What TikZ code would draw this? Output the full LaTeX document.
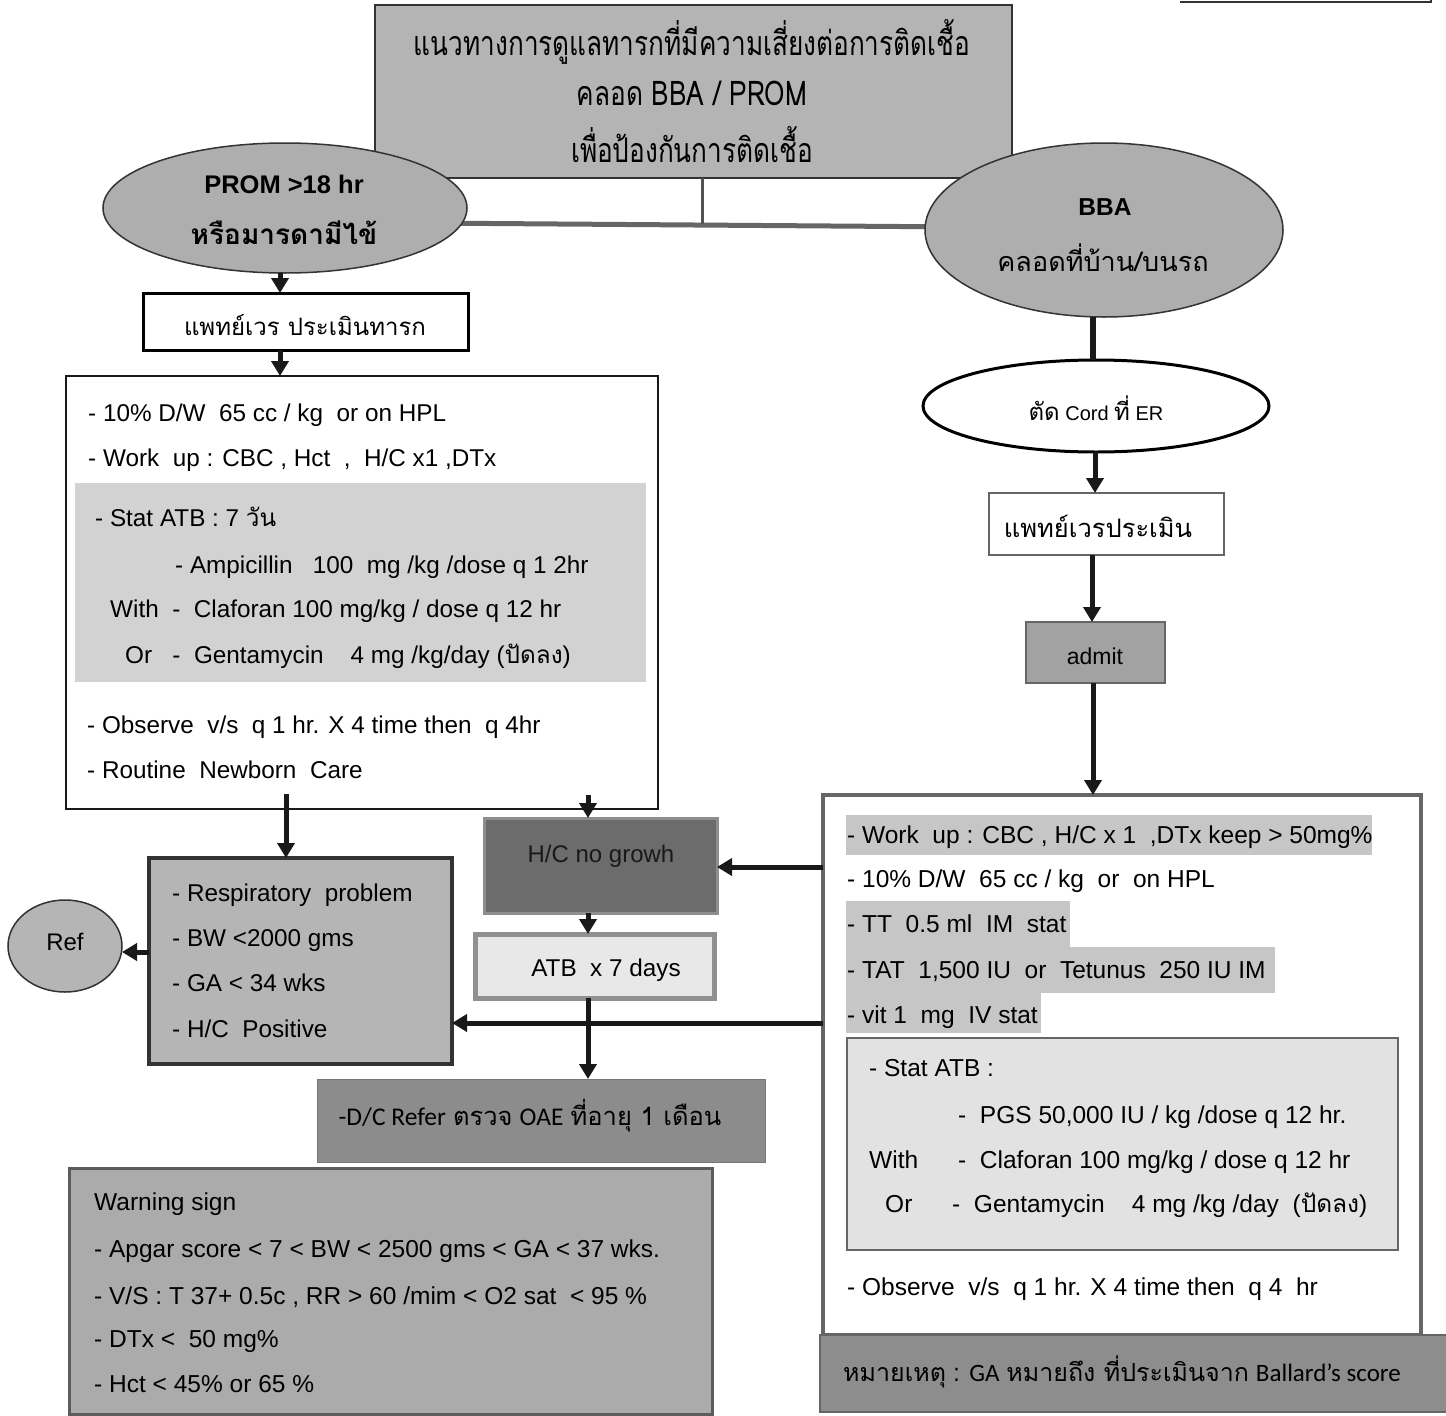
\documentclass[tikz,border=0pt]{standalone}
\usepackage{fontspec}
\setmainfont{Liberation Sans}
\newfontfamily\thf[Script=Thai]{Loma}
\newfontfamily\thtitle[Script=Thai,FakeStretch=0.77]{Loma}
\newfontfamily\calf{Carlito}
\usetikzlibrary{arrows.meta,shapes.geometric,backgrounds}
\definecolor{cTitle}{HTML}{B4B4B4}
\definecolor{cEll}{HTML}{AEAEAE}
\definecolor{cBand}{HTML}{D2D2D2}
\definecolor{cResp}{HTML}{B5B5B5}
\definecolor{cHC}{HTML}{6C6C6C}
\definecolor{cHCb}{HTML}{8E8E8E}
\definecolor{cATB}{HTML}{E8E8E8}
\definecolor{cATBb}{HTML}{909090}
\definecolor{cDC}{HTML}{8C8C8C}
\definecolor{cWarn}{HTML}{ABABAB}
\definecolor{cAdmit}{HTML}{A2A2A2}
\definecolor{cRB}{HTML}{C6C6C6}
\definecolor{cStat}{HTML}{E2E2E2}
\definecolor{cNote}{HTML}{8D8D8D}
\definecolor{cDark}{HTML}{333333}
\definecolor{cMid}{HTML}{666666}
\begin{document}
\begin{tikzpicture}[x=1pt,y=-1pt,
  shp/.style={inner sep=0pt, outer sep=0pt},
  rbox/.style={shp, rectangle},
  ell/.style={shp, ellipse},
  band/.style={shp, rectangle, fill=#1, draw=none},
  tw/.style={inner sep=0pt, anchor=base west, font=\fontsize{24.3}{28}\selectfont},
  tn/.style={inner sep=0pt, anchor=base west, font=\fontsize{24.5}{28}\selectfont},
  arr/.style={line width=5pt, draw=black!90, -{Triangle[width=17pt,length=15pt]}},
]
\useasboundingbox (0,0) rectangle (1446,1416);
% fragment of a box at top right
\coordinate (fa) at (1180,2);
\coordinate (fb) at (1431,2);
\coordinate (fc) at (1431,-2);
\draw[line width=2.5pt, cDark] (fa) -- (fb) -- (fc);

% ---------- title ----------
\node[rbox, fill=cTitle, draw=cDark, line width=2pt, minimum width=637pt, minimum height=173pt] (title) at (693.5,91.5) {};
\node[shp, font=\thtitle\fontsize{34}{36}\selectfont] (ti1) at (692,42) {แนวทางการดูแลทารกที่มีความเสี่ยงต่อการติดเชื้อ};
\node[shp, font=\thtitle\fontsize{34}{36}\selectfont] (ti2) at (692,93) {คลอด BBA / PROM};
\node[shp, font=\thtitle\fontsize{34}{36}\selectfont] (ti3) at (692,145) {เพื่อป้องกันการติดเชื้อ};

% ---------- ellipses ----------
\node[ell, fill=cEll, draw=cDark, line width=1.5pt, minimum width=364pt, minimum height=130pt] (lell) at (285,208) {};
\node[shp, font=\bfseries\fontsize{25.5}{28}\selectfont] (le1) at (284,184) {PROM >18 hr};
\node[shp, font=\thf\bfseries\fontsize{28}{30}\selectfont] (le2) at (284,233) {หรือมารดามีไข้};

\node[ell, fill=cEll, draw=cDark, line width=1.5pt, minimum width=358pt, minimum height=174pt] (rell) at (1104,230) {};
\node[shp, font=\bfseries\fontsize{24.5}{26}\selectfont] (re1) at (1105,207) {BBA};
\node[shp, font=\thf\fontsize{27}{29}\selectfont] (re2) at (1103,258) {คลอดที่บ้าน/บนรถ};

% junction lines
\coordinate (j) at (702,224);
\coordinate (hl) at (460,222);
\coordinate (hr) at (928,228);
\begin{pgfonlayer}{background}
\fill[white] (0,0) rectangle (1446,1416);
\draw[line width=5pt, cMid] (lell.center |- hl) -- (rell.center |- hr);
\end{pgfonlayer}
\draw[line width=3pt, cMid!80!black] (title.south -| j) -- (j);

% ---------- left column ----------
\coordinate (ax) at (280,0);
\node[rbox, fill=white, draw=black, line width=3pt, minimum width=325pt, minimum height=57pt] (doc1) at (305.5,321.5) {};
\node[shp, font=\thf\fontsize{24}{26}\selectfont] (doc1t) at (305,325) {แพทย์เวร ประเมินทารก};
\draw[arr] (lell.south -| ax) -- (doc1.north -| ax);

\node[rbox, fill=white, draw=black!90, line width=1.5pt, minimum width=592pt, minimum height=433pt] (lbox) at (362,592.5) {};
\node[band=cBand, minimum width=571pt, minimum height=199pt] (lband) at (360.5,582.5) {};
\draw[arr] (doc1.south -| ax) -- (lbox.north -| ax);

\node[tw] (l1) at (88,421) {- 10\% D/W\ \ 65 cc / kg\ \ or on HPL};
\node[tw] (l2) at (88,466) {- Work\ \ up : CBC , Hct\ \ ,\ \ H/C x1 ,DTx};
\node[tw] (l3) at (95,526) {- Stat ATB : 7 {\thf วัน}};
\node[tw] (l4) at (175,573) {- Ampicillin\ \ \ 100\ \ mg /kg /dose q 1 2hr};
\node[tw] (l5) at (110,617) {With\ \ -\ \ Claforan 100 mg/kg / dose q 12 hr};
\node[tw] (l6) at (125,663) {Or\ \ \ -\ \ Gentamycin\ \ \ \ 4 mg /kg/day ({\thf ปัดลง})};
\node[tw] (l7) at (87,733) {- Observe\ \ v/s\ \ q 1 hr. X 4 time then\ \ q 4hr};
\node[tw] (l8) at (87,778) {- Routine\ \ Newborn\ \ Care};

% respiratory box and Ref
\node[rbox, fill=cResp, draw=cDark, line width=3.5pt, minimum width=303pt, minimum height=206pt] (resp) at (300.5,961) {};
\node[tw] (r1) at (172,901) {- Respiratory\ \ problem};
\node[tw] (r2) at (172,946) {- BW <2000 gms};
\node[tw] (r3) at (172,991) {- GA < 34 wks};
\node[tw] (r4) at (172,1037) {- H/C\ \ Positive};
\node[ell, fill=cResp, draw=cDark, line width=1.5pt, minimum width=114pt, minimum height=92pt] (ref) at (65,946) {};
\node[shp, font=\fontsize{24}{26}\selectfont] (reft) at (65,942) {Ref};
\coordinate (ay1) at (0,952);
\draw[arr] (resp.west |- ay1) -- (ref.east |- ay1);
\coordinate (ax2) at (286,0);
\draw[arr] ([yshift=15pt]lbox.south -| ax2) -- (resp.north -| ax2);

% middle column
\coordinate (mx) at (588,0);
\node[rbox, fill=cHC, draw=cHCb, line width=3pt, minimum width=233pt, minimum height=95pt] (hc) at (600.5,865.5) {};
\node[shp, font=\fontsize{24}{26}\selectfont, text=black!90] (hct) at (601,856) {H/C no growh};
\draw[arr] ([yshift=14pt]lbox.south -| mx) -- (hc.north -| mx);

\node[rbox, fill=cATB, draw=cATBb, line width=5pt, minimum width=239pt, minimum height=64pt] (atb) at (594.5,966) {};
\node[shp, font=\fontsize{24.3}{26}\selectfont] (atbt) at (606,970) {ATB\ \ x 7 days};
\draw[arr] (hc.south -| mx) -- (atb.north -| mx);

\node[rbox, fill=cDC, draw=cDC!85!black, line width=1pt, minimum width=448pt, minimum height=83pt] (dc) at (541,1120.5) {};
\node[shp, font=\fontsize{25.5}{28}\selectfont] (dct) at (530,1116) {{\calf -D/C Refer} {\thf ตรวจ} {\calf OAE} {\thf ที่อายุ 1 เดือน}};
\draw[arr] (atb.south -| mx) -- (dc.north -| mx);

% warning box
\node[rbox, fill=cWarn, draw=cDark!80, line width=3pt, minimum width=643pt, minimum height=246pt] (warn) at (390.5,1291) {};
\node[tn] (w1) at (94,1210) {Warning sign};
\node[tn] (w2) at (94,1257) {- Apgar score < 7 < BW < 2500 gms < GA < 37 wks.};
\node[tn] (w3) at (94,1304) {- V/S : T 37+ 0.5c , RR > 60 /mim < O2 sat\ \ < 95 \%};
\node[tn] (w4) at (94,1347) {- DTx <\ \ 50 mg\%};
\node[tn] (w5) at (94,1392) {- Hct < 45\% or 65 \%};

% ---------- right column ----------
\coordinate (bx) at (1093,0);
\node[ell, fill=white, draw=black, line width=3pt, minimum width=346pt, minimum height=92pt] (cut) at (1096,406) {};
\node[shp, font=\fontsize{20}{22}\selectfont] (cutt) at (1096,408) {{\thf\fontsize{24}{26}\selectfont ตัด} Cord {\thf\fontsize{24}{26}\selectfont ที่} ER};
\draw[line width=6pt, black!90] (rell.south -| bx) -- (cut.north -| bx);

\node[rbox, fill=white, draw=cMid, line width=1.3pt, minimum width=235pt, minimum height=62pt] (doc2) at (1106.5,524) {};
\node[shp, font=\thf\fontsize{25.5}{28}\selectfont] (doc2t) at (1098,526) {แพทย์เวรประเมิน};
\coordinate (bx2) at (1095,0);
\draw[arr] (cut.south -| bx2) -- (doc2.north -| bx2);

\node[rbox, fill=cAdmit, draw=cMid, line width=1.3pt, minimum width=139pt, minimum height=61pt] (admit) at (1095.5,652.5) {};
\node[shp, font=\fontsize{23}{26}\selectfont] (admitt) at (1095,656) {admit};
\coordinate (bx3) at (1092,0);
\draw[arr] (doc2.south -| bx3) -- (admit.north -| bx3);

\node[rbox, fill=white, draw=cMid, line width=3.5pt, minimum width=598pt, minimum height=540pt] (rbig) at (1122,1065) {};
\draw[arr] (admit.south -| bx) -- (rbig.north -| bx);

\node[band=cRB, minimum width=526pt, minimum height=40pt] (rb1) at (1109,835) {};
\node[band=cRB, minimum width=224pt, minimum height=46pt] (rb2) at (958,924) {};
\node[band=cRB, minimum width=429pt, minimum height=46pt] (rb3) at (1060.5,970) {};
\node[band=cRB, minimum width=195pt, minimum height=40pt] (rb4) at (943.5,1013) {};
\node[tn] (q1) at (847,843) {- Work\ \ up : CBC , H/C x 1\ \ ,DTx keep > 50mg\%};
\node[tn] (q2) at (847,887) {- 10\% D/W\ \ 65 cc / kg\ \ or\ \ on HPL};
\node[tn] (q3) at (847,932) {- TT\ \ 0.5 ml\ \ IM\ \ stat};
\node[tn] (q4) at (847,978) {- TAT\ \ 1,500 IU\ \ or\ \ Tetunus\ \ 250 IU IM};
\node[tn] (q5) at (847,1023) {- vit 1\ \ mg\ \ IV stat};

\node[rbox, fill=cStat, draw=cMid, line width=1.5pt, minimum width=551pt, minimum height=212pt] (stat) at (1122.5,1144) {};
\node[tn] (s1) at (869,1076) {- Stat ATB :};
\node[tn] (s2) at (958,1123) {-\ \ PGS 50,000 IU / kg /dose q 12 hr.};
\node[tn] (s3a) at (869,1168) {With};
\node[tn] (s3b) at (958,1168) {-\ \ Claforan 100 mg/kg / dose q 12 hr};
\node[tn] (s4a) at (885,1212) {Or};
\node[tn] (s4b) at (952,1212) {-\ \ Gentamycin\ \ \ \ 4 mg /kg /day\ \ ({\thf ปัดลง})};
\node[tn] (q6) at (847,1295) {- Observe\ \ v/s\ \ q 1 hr. X 4 time then\ \ q 4\ \ hr};

\node[rbox, fill=cNote, draw=cMid, line width=2pt, minimum width=630pt, minimum height=77pt] (note) at (1135,1373.5) {};
\node[shp, font=\fontsize{25}{28}\selectfont] (notet) at (1122,1372) {{\thf หมายเหตุ} : {\calf GA} {\thf หมายถึง ที่ประเมินจาก} {\calf Ballard’s score}};

% arrows from right box to the left
\coordinate (hy1) at (0,867);
\coordinate (hy2) at (0,1023);
\draw[arr] (rbig.west |- hy1) -- (hc.east |- hy1);
\draw[arr] (rbig.west |- hy2) -- (resp.east |- hy2);
\end{tikzpicture}
\end{document}
